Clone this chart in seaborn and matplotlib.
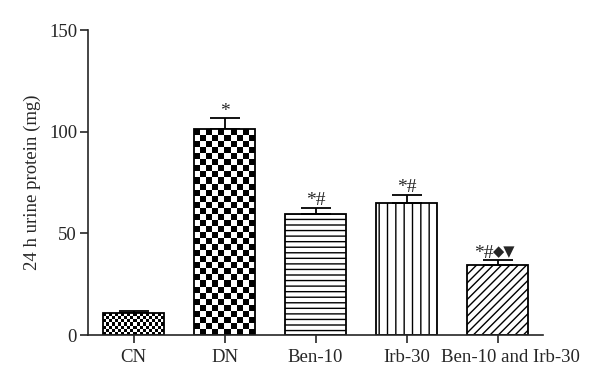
import numpy as np
import matplotlib
matplotlib.use("Agg")
import matplotlib.pyplot as plt
import matplotlib.transforms as mtransforms
import seaborn as sns

# Data
groups = ["CN", "DN", "Ben-10", "Irb-30", "Ben-10 and Irb-30"]
protein = [10.8, 101.2, 59.5, 65.1, 34.4]
sem = [0.8, 5.4, 3.1, 4.0, 2.4]
marks = ["", "*", "*#", "*#", "*#"]
extra_marks = ["", "", "", "", "\u25c6\u25bc"]

sns.set_style("ticks")
plt.rcParams["font.family"] = ["Liberation Serif", "DejaVu Sans"]
plt.rcParams["hatch.linewidth"] = 1.0

fig = plt.figure(figsize=(6, 3.9), dpi=100)
ax = fig.add_axes([0.147, 0.141, 0.758, 0.782])

sns.barplot(x=groups, y=protein, color="white", edgecolor="black",
            linewidth=1.3, width=0.67, ax=ax)

hatches = [None, None, "---", "||", "////"]
for patch, h in zip(ax.patches, hatches):
    if h:
        patch.set_hatch(h)

ax.errorbar(range(len(groups)), protein, yerr=[np.zeros(len(sem)), sem],
            fmt="none", ecolor="black", elinewidth=1.3, capsize=11,
            capthick=1.3, zorder=1)

for i, (v, e, m, x) in enumerate(zip(protein, sem, marks, extra_marks)):
    if x:
        ax.annotate(m, (i, v + e), xytext=(-3, -1), textcoords="offset points",
                    ha="right", va="bottom", fontsize=14)
        ax.annotate(x, (i, v + e), xytext=(-3, 1), textcoords="offset points",
                    ha="left", va="bottom", fontsize=10.5,
                    family="DejaVu Sans")
    elif m:
        ax.annotate(m, (i, v + e), xytext=(0, -1), textcoords="offset points",
                    ha="center", va="bottom", fontsize=14)

ax.set_xlim(-0.5, 4.5)
ax.set_ylim(0, 150)
ax.set_yticks([0, 50, 100, 150])
ax.set_ylabel("24 h urine protein (mg)", fontsize=13.5, labelpad=6)
ax.tick_params(axis="both", labelsize=13.5, length=6, width=1.2,
               direction="out", pad=2)
ax.tick_params(axis="x", pad=4)
for s in ["left", "bottom"]:
    ax.spines[s].set_linewidth(1.2)
sns.despine(ax=ax)

# the last group label sits a little right of its tick
last = ax.get_xticklabels()[-1]
last.set_transform(last.get_transform() +
                   mtransforms.ScaledTranslation(13 / 100, 0, fig.dpi_scale_trans))

# checkerboard fills for CN and DN
fig.canvas.draw()
for patch, sq in zip(ax.patches[:2], [3.1, 6.1]):
    bb = patch.get_window_extent()
    ncol = max(1, int(round(bb.width / sq)))
    nrow = max(1, int(round(bb.height / sq)))
    board = np.add.outer(np.arange(nrow), np.arange(ncol)) % 2
    x0, y0 = patch.get_x(), patch.get_y()
    w, h = patch.get_width(), patch.get_height()
    im = ax.imshow(board, cmap="gray", extent=(x0, x0 + w, y0, y0 + h),
                   interpolation="nearest", aspect="auto", zorder=1.5)
    im.set_clip_path(patch)
    patch.set_facecolor("none")
    patch.set_zorder(2)

ax.set_xlim(-0.5, 4.5)
ax.set_ylim(0, 150)

fig.savefig("out.png", dpi=100, facecolor="white")
